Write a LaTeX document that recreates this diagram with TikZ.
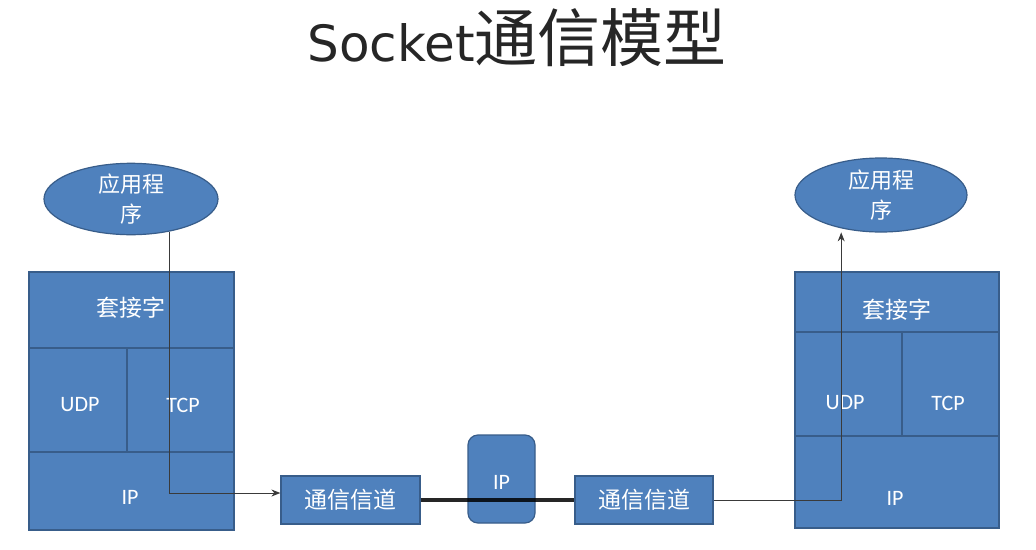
\documentclass[tikz,border=0pt]{standalone}
\usepackage{fontspec}
\setmainfont{Carlito}
\newfontfamily\cjk{Noto Sans CJK SC}
\newfontfamily\dvs{DejaVu Sans}
\usetikzlibrary{shapes.geometric,arrows.meta,calc}
\definecolor{boxblue}{HTML}{4F81BD}
\definecolor{boxedge}{HTML}{385D8A}
\definecolor{connline}{HTML}{3A3A3A}
\begin{document}
\begin{tikzpicture}[x=1pt,y=-1pt,
  layer/.style={rectangle, draw=boxedge, fill=boxblue, line width=1.2pt, inner sep=0pt},
  app/.style={ellipse, draw=boxedge, fill=boxblue, line width=1.2pt, inner sep=0pt,
    text=white, align=center, font=\cjk\fontsize{22}{30}\selectfont},
  zh/.style={text=white, inner sep=0pt, font=\cjk\fontsize{23}{26}\selectfont},
  en/.style={text=white, inner sep=0pt, font=\fontsize{22}{26}\selectfont},
  conn/.style={draw=connline, line width=1pt, -{Stealth[length=9pt,width=7pt]}},
  link/.style={draw=black, line width=3.5pt, opacity=0.85}
]
\fill[white] (0,0) rectangle (1036,549);
\useasboundingbox (0,0) rectangle (1036,549);

% title
\node[inner sep=0pt, text=black!85] (title) at (517,38)
  {{\dvs\fontsize{50}{56}\selectfont Socket}{\cjk\fontsize{63}{68}\selectfont 通信模型}};

% left side
\node[app, minimum width=174pt, minimum height=66pt] (lapp) at (131,199) {应用程\\序};
\node[layer, minimum width=205pt, minimum height=76pt] (lsock) at (131.5,310) {};
\node[layer, minimum width=98pt, minimum height=104pt] (ludp) at (78,400) {};
\node[layer, minimum width=107pt, minimum height=104pt] (ltcp) at (180.5,400) {};
\node[layer, minimum width=205pt, minimum height=78pt] (lip) at (131.5,491) {};
\node[zh] (lsockT) at (131,308) {套接字};
\node[en] (ludpT) at (80,405) {UDP};
\node[en] (ltcpT) at (183,405) {TCP};
\node[en] (lipT) at (130,497) {IP};

% right side
\node[app, minimum width=172pt, minimum height=74pt] (rapp) at (881,195) {应用程\\序};
\node[layer, minimum width=204pt, minimum height=60pt] (rsock) at (897,302) {};
\node[layer, minimum width=107pt, minimum height=104pt] (rudp) at (848.5,384) {};
\node[layer, minimum width=97pt, minimum height=104pt] (rtcp) at (950.5,384) {};
\node[layer, minimum width=204pt, minimum height=92pt] (rip) at (897,482) {};
\node[zh] (rsockT) at (897,310) {套接字};
\node[en] (rudpT) at (845,403) {UDP};
\node[en] (rtcpT) at (948,403) {TCP};
\node[en] (ripT) at (895,498) {IP};

% channel
\node[layer, minimum width=139pt, minimum height=48pt] (lch) at (350.5,500) {};
\node[zh] (lchT) at (350.5,500) {通信信道};
\node[layer, minimum width=138pt, minimum height=48pt] (rch) at (644,500) {};
\node[zh] (rchT) at (644,500) {通信信道};
\node[layer, rounded corners=10pt, minimum width=67pt, minimum height=88pt] (mip) at (501.5,479) {};
\node[en] (mipT) at (501.5,482) {IP};

% connectors
\draw[link] (lch.east) -- (rch.west);
\draw[conn] (lapp.-40) |- ([yshift=7pt]lch.west);
\draw[conn, shorten >=4pt] (rch.east) -| (rapp.-140);
\end{tikzpicture}
\end{document}
